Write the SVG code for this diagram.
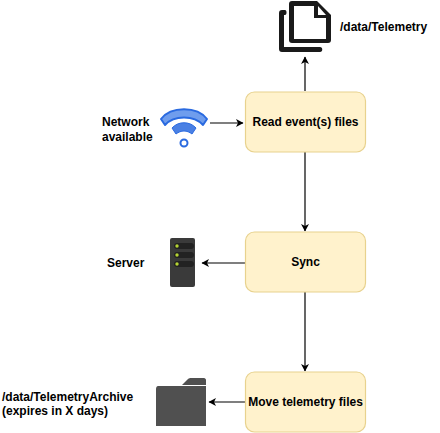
<svg xmlns="http://www.w3.org/2000/svg" width="440" height="433" viewBox="0 0 440 433">
<style>
text{font-family:"Liberation Sans",Arial,sans-serif;font-size:12px;font-weight:700;fill:#000}
.box{fill:#fff2cc;stroke:#e8d28e;stroke-width:1.2}
.c{fill:none;stroke:#000;stroke-width:1.2}
.m{text-anchor:middle}
</style>
<defs><marker id="a" markerUnits="userSpaceOnUse" markerWidth="9" markerHeight="9" refX="7" refY="4" orient="auto"><path d="M0 0L7.500 4L0 8L2 4Z" fill="#000"/></marker></defs>
<rect width="440" height="433" fill="#fff"/>
<g id="connectors">
<path class="c" d="M305 91V57" marker-end="url(#a)"/>
<path class="c" d="M210 123H243" marker-end="url(#a)"/>
<path class="c" d="M305 152V231" marker-end="url(#a)"/>
<path class="c" d="M245 263H202" marker-end="url(#a)"/>
<path class="c" d="M305 292V371" marker-end="url(#a)"/>
<path class="c" d="M245 402H209" marker-end="url(#a)"/>
</g>
<g id="read"><rect class="box" x="245.500" y="92" width="120" height="60" rx="9"/><text class="m" x="305.500" y="126">Read event(s) files</text></g>
<g id="sync"><rect class="box" x="245.500" y="232" width="120" height="60" rx="9"/><text class="m" x="305.500" y="266">Sync</text></g>
<g id="move"><rect class="box" x="245.500" y="372" width="120" height="60" rx="9"/><text class="m" x="305.500" y="406">Move telemetry files</text></g>
<g id="files">
<path d="M292 1H317L331 15V40C331 42 330 43 328 43H292C290 43 289 42 289 40V4C289 2 290 1 292 1Z" fill="#1a1a1a"/>
<path d="M294 6H314V18H326V39H294Z" fill="#fff"/>
<path d="M318 6L326 15H318Z" fill="#fff"/>
<path d="M285 10H282C280 10 279 11 279 13V49C279 51 280 52 282 52H320C323 52 323 47 320 47H284V15H285C287 15 287 10 285 10Z" fill="#1a1a1a"/>
<text x="340" y="31">/data/Telemetry</text>
</g>
<g id="wifi">
<path d="M161 119C171 106 197 106 207 119L203 125C194 115 174 115 165 125Z" fill="#6f9ded" stroke="#2a6ae0" stroke-width="2" stroke-linejoin="round"/>
<path d="M172 128C178 121 190 121 196 128L192 134C187 130 181 130 176 134Z" fill="#4a80e4" stroke="#2a6ae0" stroke-linejoin="round"/>
<circle cx="184" cy="143" r="3.500" fill="#fff" stroke="#2a6ae0" stroke-width="2"/>
<text x="102" y="126">Network</text><text x="102" y="141">available</text>
</g>
<g id="server">
<rect x="170" y="238" width="25" height="49" rx="2" fill="#3a3a3a"/>
<g fill="#222"><rect x="174" y="243" width="20" height="6" rx="3"/><rect x="174" y="252" width="20" height="6" rx="3"/><rect x="174" y="261" width="20" height="6" rx="3"/></g>
<g fill="#b5d334"><circle cx="177" cy="246" r="1.700"/><circle cx="177" cy="255" r="1.700"/><circle cx="177" cy="264" r="1.700"/></g>
<text x="107" y="267">Server</text>
</g>
<g id="archive">
<path d="M182 385L188 379C189 378 190 378 191 378H204C205 378 206 379 206 380V385Z" fill="#505050"/>
<path d="M156 389C156 387 157 386 158 386H206V426H156Z" fill="#505050"/>
<text x="2" y="401">/data/TelemetryArchive</text><text x="2" y="415">(expires in X days)</text>
</g>
</svg>
